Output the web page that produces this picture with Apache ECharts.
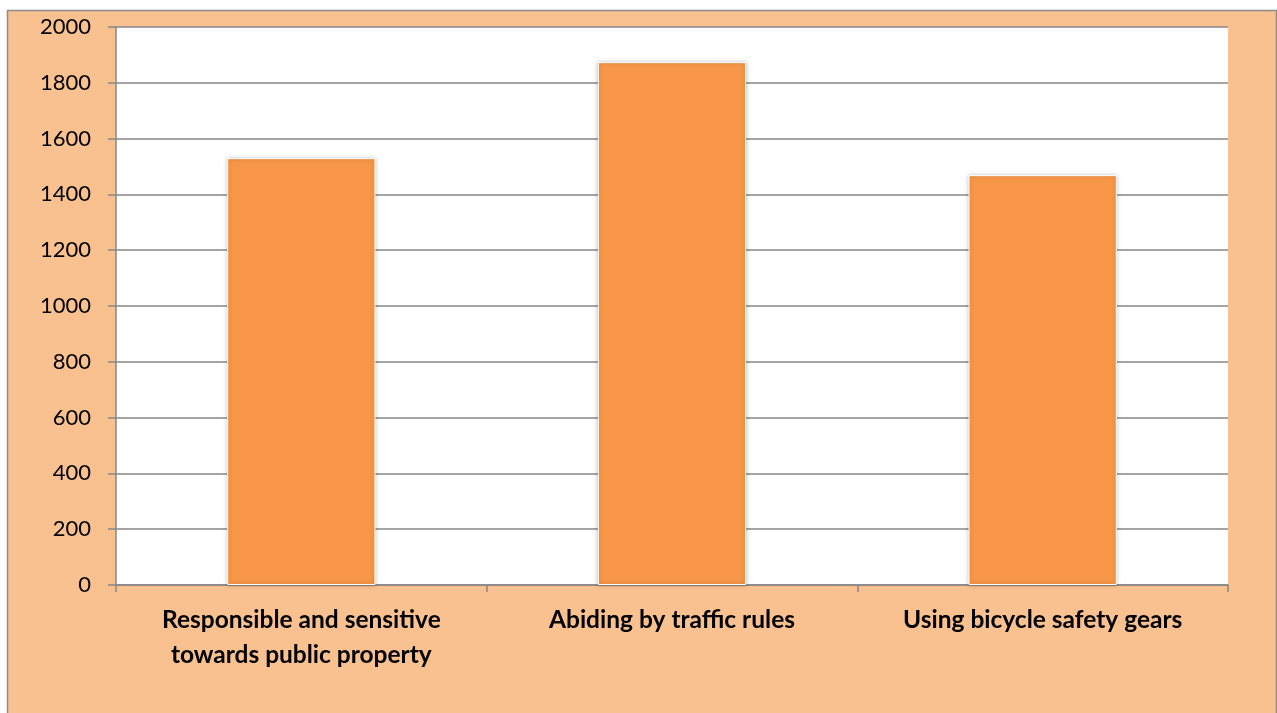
<!DOCTYPE html>
<html>
<head>
<meta charset="utf-8">
<script src="https://cdn.jsdelivr.net/npm/echarts@6/dist/echarts.min.js"></script>
<style>
  html, body { margin: 0; padding: 0; background: #ffffff; }
  #chart { width: 1277px; height: 713px; }
</style>
</head>
<body>
<div id="chart"></div>
<script>
// Survey responses per road-safety behaviour
const categories = [
  'Responsible and sensitive\ntowards public property',
  'Abiding by traffic rules',
  'Using bicycle safety gears'
];
const counts = [1530, 1874, 1469];
const yTicks = { min: 0, max: 2000, interval: 200 };

const chart = echarts.init(document.getElementById('chart'), null, { renderer: 'canvas' });

chart.setOption({
  animation: false,
  backgroundColor: '#ffffff',
  graphic: [{
    type: 'rect',
    z: -10,
    silent: true,
    shape: { x: 7.5, y: 10.5, width: 1269, height: 720 },
    style: { fill: '#F9C190', stroke: '#8c8c8c', lineWidth: 1.5 }
  }, {
    type: 'rect',
    z: -5,
    silent: true,
    shape: { x: 116, y: 27, width: 1112, height: 558 },
    style: { fill: '#ffffff' }
  }],
  grid: { left: 116, right: 49, top: 27, bottom: 128, containLabel: false },
  xAxis: {
    type: 'category',
    data: categories,
    boundaryGap: true,
    axisLine: { show: true, lineStyle: { color: '#868686', width: 1.5 } },
    axisTick: { show: true, length: 7, alignWithLabel: false, lineStyle: { color: '#868686', width: 1.5 } },
    axisLabel: {
      color: '#000000',
      fontFamily: 'Lato, "Open Sans", sans-serif',
      fontWeight: 'bold',
      fontSize: 24.5,
      lineHeight: 35,
      margin: 18,
      interval: 0
    }
  },
  yAxis: {
    type: 'value',
    min: yTicks.min,
    max: yTicks.max,
    interval: yTicks.interval,
    axisLine: { show: true, lineStyle: { color: '#868686', width: 1.5 } },
    axisTick: { show: true, length: 8, lineStyle: { color: '#868686', width: 1.5 } },
    splitLine: { show: true, lineStyle: { color: '#868686', width: 1.5 } },
    axisLabel: {
      color: '#000000',
      fontFamily: 'Lato, "Open Sans", sans-serif',
      fontSize: 22,
      margin: 25,
      formatter: v => String(v)
    }
  },
  series: [{
    type: 'bar',
    data: counts,
    barWidth: '40%',
    itemStyle: {
      color: '#F79646',
      borderColor: '#ffffff',
      borderWidth: 1,
      shadowBlur: 4,
      shadowColor: 'rgba(0,0,0,0.25)',
      shadowOffsetX: 0,
      shadowOffsetY: 0
    }
  }]
});
</script>
</body>
</html>
